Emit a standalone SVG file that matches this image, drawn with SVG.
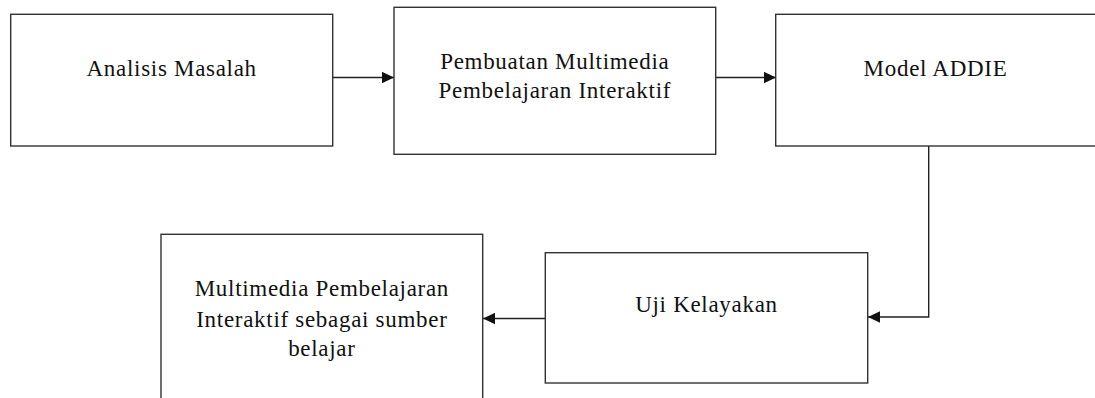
<svg xmlns="http://www.w3.org/2000/svg" width="1095" height="398" viewBox="0 0 1095 398">
  <style>
    .box { fill: #ffffff; stroke: #333333; stroke-width: 1.4; }
    .lbl { font-family: "Liberation Serif", "Times New Roman", serif; font-size: 23px; letter-spacing: 0.7px; fill: #111111; text-anchor: middle; }
    .edge { fill: none; stroke: #222222; stroke-width: 1.4; marker-end: url(#arrow); }
  </style>
  <defs>
    <marker id="arrow" markerUnits="userSpaceOnUse" markerWidth="12" markerHeight="12" viewBox="0 0 12 12" refX="12" refY="6" orient="auto">
      <path d="M0,0.3 L12,6 L0,11.7 Z" fill="#111111"/>
    </marker>
  </defs>
  <rect width="1095" height="398" fill="#ffffff"/>

  <g id="connectors">
    <path class="edge" d="M333,77.5 L394,77.5"/>
    <path class="edge" d="M716,77.5 L776,77.5"/>
    <path class="edge" d="M928.7,146 L928.7,317 L868,317"/>
    <path class="edge" d="M545,318.5 L483,318.5"/>
  </g>

  <g id="node-analisis">
    <rect class="box" x="10.7" y="14.3" width="322" height="131.7"/>
    <text class="lbl" x="171.7" y="76">Analisis Masalah</text>
  </g>

  <g id="node-pembuatan">
    <rect class="box" x="394" y="7.3" width="321.7" height="147"/>
    <text class="lbl" x="554.8" y="69">Pembuatan Multimedia</text>
    <text class="lbl" x="554.8" y="98.3">Pembelajaran Interaktif</text>
  </g>

  <g id="node-addie">
    <rect class="box" x="775.7" y="14.3" width="322" height="131.7"/>
    <text class="lbl" x="935.5" y="76">Model ADDIE</text>
  </g>

  <g id="node-uji">
    <rect class="box" x="545.3" y="252.7" width="322.4" height="130.3"/>
    <text class="lbl" x="706.5" y="311.7">Uji Kelayakan</text>
  </g>

  <g id="node-sumber">
    <rect class="box" x="161" y="234.3" width="321.7" height="170"/>
    <text class="lbl" x="321.9" y="296">Multimedia Pembelajaran</text>
    <text class="lbl" x="321.9" y="326.5">Interaktif sebagai sumber</text>
    <text class="lbl" x="321.9" y="356">belajar</text>
  </g>
</svg>
